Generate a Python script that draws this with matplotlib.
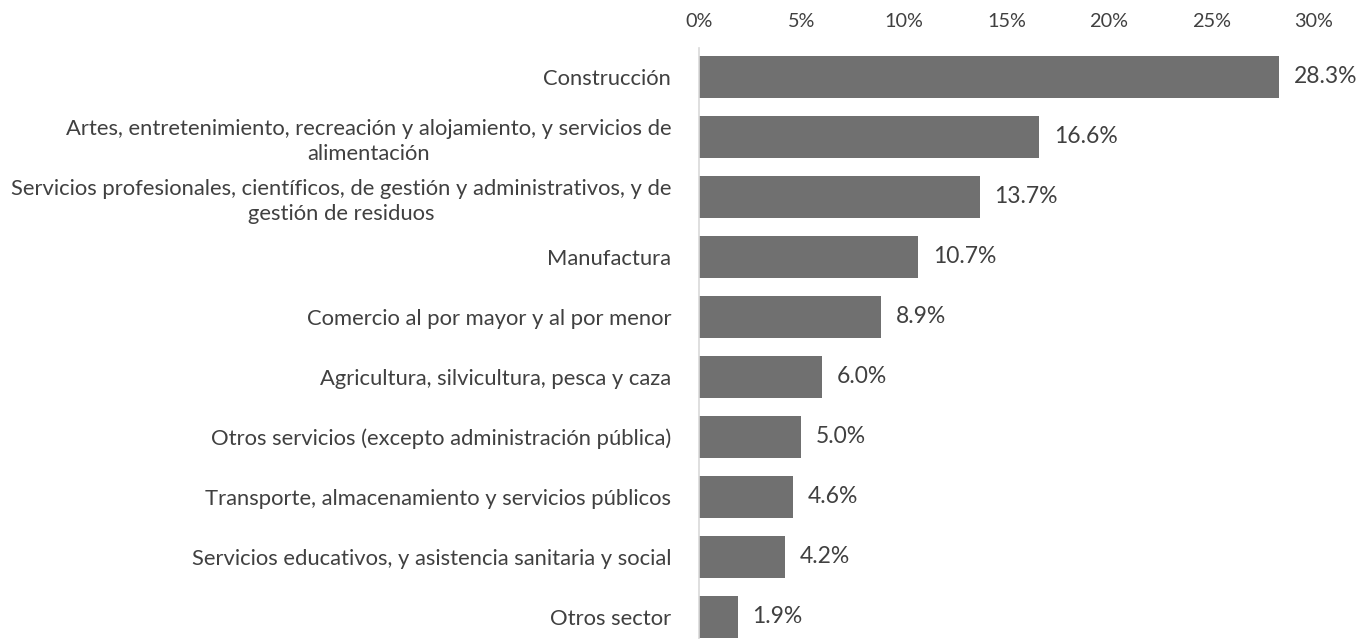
import numpy as np
import matplotlib.pyplot as plt

plt.rcParams['font.family'] = ['Lato', 'DejaVu Sans']

sectors = [
    'Construcción',
    'Artes, entretenimiento, recreación y alojamiento, y servicios de\nalimentación',
    'Servicios profesionales, científicos, de gestión y administrativos, y de\ngestión de residuos',
    'Manufactura',
    'Comercio al por mayor y al por menor',
    'Agricultura, silvicultura, pesca y caza',
    'Otros servicios (excepto administración pública)',
    'Transporte, almacenamiento y servicios públicos',
    'Servicios educativos, y asistencia sanitaria y social',
    'Otros sector',
]
shares = [28.3, 16.6, 13.7, 10.7, 8.9, 6.0, 5.0, 4.6, 4.2, 1.9]
ticks = [0, 5, 10, 15, 20, 25, 30]

text_col = '#404040'
fig = plt.figure(figsize=(13.59, 6.39), dpi=100)
ax = fig.add_axes([0.5143, 0.0, 0.4526, 0.9249])

y = np.arange(len(sectors))
ax.barh(y, shares, height=0.7, color='#707070')
for yi, v in zip(y, shares):
    ax.text(v + 0.7, yi, f'{v:.1f}%', va='center', ha='left', fontsize=16.5, color=text_col)

ax.set_xlim(0, 30)
ax.set_ylim(9.37, -0.48)
ax.xaxis.tick_top()
ax.set_xticks(ticks)
ax.set_xticklabels([f'{t}%' for t in ticks], fontsize=14.3, color=text_col)
ax.tick_params(axis='x', length=0, pad=13)
ax.set_yticks(y)
ax.set_yticklabels(sectors, fontsize=15.8, color=text_col, multialignment='center',
                   linespacing=1.35)
ax.tick_params(axis='y', length=0, pad=20)
for s in ['top', 'right', 'bottom']:
    ax.spines[s].set_visible(False)
ax.spines['left'].set_color('#d9d9d9')
ax.spines['left'].set_linewidth(1.2)

fig.savefig('out.png', dpi=100)
